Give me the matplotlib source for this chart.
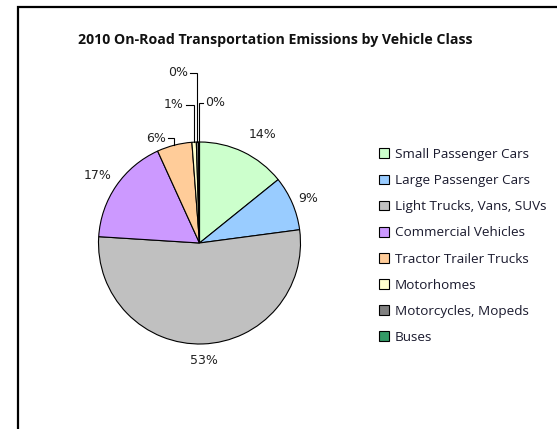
import matplotlib
matplotlib.use("Agg")
import matplotlib.pyplot as plt
from matplotlib.lines import Line2D
import numpy as np

categories = ["Small Passenger Cars", "Large Passenger Cars", "Light Trucks, Vans, SUVs",
              "Commercial Vehicles", "Tractor Trailer Trucks", "Motorhomes",
              "Motorcycles, Mopeds", "Buses"]
values = [14.2, 8.7, 53.1, 17.2, 5.6, 0.7, 0.35, 0.15]
colors = ["#CCFFCC", "#99CCFF", "#C0C0C0", "#CC99FF", "#FFCC99", "#FFFFCC", "#808080", "#339966"]
title = "2010 On-Road Transportation Emissions by Vehicle Class"

W, H = 557, 429
fig = plt.figure(figsize=(W / 100, H / 100), dpi=100)
ax = fig.add_axes([0, 0, 1, 1])

cx, cy, R = 199.5, H - 243, 101
wedges, _ = ax.pie(values, colors=colors, startangle=90, counterclock=False,
                   center=(cx, cy), radius=R, frame=True,
                   wedgeprops=dict(edgecolor="black", linewidth=0.8))
ax.set_xlim(0, W)
ax.set_ylim(0, H)
ax.set_aspect("equal")
ax.axis("off")

labfont = dict(family="DejaVu Sans", fontsize=9, color="#222222")

# label placement: (distance factor, angle shift in degrees) for outside labels
outside = {0: (1.24, -4.5), 1: (1.16, -1), 2: (1.16, 0), 3: (1.21, 1)}
# small-slice labels with leaders: (text x, text y in px from top, ha)
small = {4: (166, 138, "right"), 5: (184, 105, "right"), 6: (188, 73, "right"), 7: (205, 103, "left")}
for i, w in enumerate(wedges):
    mid_deg = (w.theta1 + w.theta2) / 2
    txt = f"{round(values[i])}%"
    if i in small:
        mid = np.deg2rad(mid_deg)
        tx, ty, ha = small[i]
        ty_d = H - ty
        px, py = cx + R * np.cos(mid), cy + R * np.sin(mid)
        ax.plot([px, px, tx + (2 if ha == "right" else -2)], [py, ty_d, ty_d],
                color="black", lw=0.8, solid_joinstyle="miter")
        ax.text(tx, ty_d, txt, ha=ha, va="center", **labfont)
    else:
        f, sh = outside[i]
        mid = np.deg2rad(mid_deg + sh)
        d = f * R
        ax.text(cx + d * np.cos(mid), cy + d * np.sin(mid), txt, ha="center", va="center", **labfont)

fig.text(275 / W, 1 - 40 / H, title, ha="center", va="center",
         fontfamily="Open Sans", fontweight="bold", fontsize=10.2, color="#111111")

leg = fig.legend(wedges, categories, loc="upper left", bbox_to_anchor=(379 / W, 1 - 148 / H),
                 frameon=False, prop=dict(family="Open Sans", size=9.7),
                 handlelength=0.73, handleheight=0.73, handletextpad=0.45,
                 labelspacing=0.975, borderpad=0, borderaxespad=0)
for t in leg.get_texts():
    t.set_color("#1a1a2e")
for h in leg.legend_handles:
    h.set_linewidth(0.8)

fig.add_artist(Line2D([18 / W, 18 / W, 1], [0, 1 - 7 / H, 1 - 7 / H],
                      transform=fig.transFigure, color="black", lw=1.6,
                      solid_joinstyle="miter"))

fig.savefig("out.png", dpi=100, facecolor="white")
